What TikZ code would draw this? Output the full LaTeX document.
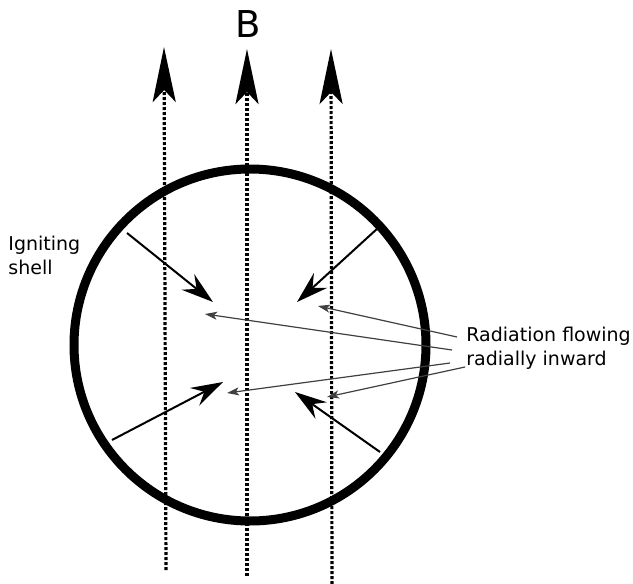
\documentclass[tikz,border=0pt]{standalone}
\usepackage{fontspec}
\setmainfont{DejaVu Sans}
\usetikzlibrary{arrows.meta}

\begin{document}
\begin{tikzpicture}[
  x=0.5pt, y=-0.5pt,
  font=\fontsize{9.5}{12}\selectfont,
  field/.style  ={line width=1.6pt, dash pattern=on 1.5pt off 1pt,
                  -{Stealth[length=27.5pt, width=11.5pt, inset=6pt]}},
  ray/.style    ={line width=1pt, -{Stealth[length=16pt, width=10pt, inset=5.5pt]}},
  pointer/.style={line width=0.6pt, draw=black!75, -{Stealth[length=6pt, width=4pt, inset=1.5pt]}},
  lbl/.style    ={align=left, inner sep=0pt, anchor=north west}
]
\useasboundingbox (0,0) rectangle (633,584);

% ---- field lines ----
\coordinate (f1b) at (166,570); \coordinate (f1t) at (164,47);
\coordinate (f2b) at (247,576); \coordinate (f2t) at (247,49);
\coordinate (f3b) at (332,584); \coordinate (f3t) at (331,49);
\draw[field] (f1b) -- (f1t);
\draw[field] (f2b) -- (f2t);
\draw[field] (f3b) -- (f3t);
\node[font=\fontsize{18.5}{20}\selectfont, inner sep=0pt] (bfield) at (248,24) {B};

% ---- igniting shell ----
\node[draw, circle, line width=4.5pt, minimum size=176pt, inner sep=0pt] (shell) at (250,345) {};
\node[lbl] (ign) at (8,236) {Igniting\\shell};

% ---- radial rays ----
\coordinate (r1s) at (127,233); \coordinate (r1e) at (213,302);
\coordinate (r2s) at (378,228); \coordinate (r2e) at (297,302);
\coordinate (r3s) at (112,440); \coordinate (r3e) at (223,382);
\coordinate (r4s) at (380,452); \coordinate (r4e) at (295,392);
\draw[ray] (r1s) -- (r1e);
\draw[ray] (r2s) -- (r2e);
\draw[ray] (r3s) -- (r3e);
\draw[ray] (r4s) -- (r4e);

% ---- label and pointers ----
\node[lbl] (rad) at (466,327) {Radiation flowing\\radially inward};
\coordinate (p1) at (457,337); \coordinate (p1e) at (318,306);
\coordinate (p2) at (452,350); \coordinate (p2e) at (205,314);
\coordinate (p3) at (450,363); \coordinate (p3e) at (227,393);
\coordinate (p4) at (465,367); \coordinate (p4e) at (327,397);
\draw[pointer] (p1) -- (p1e);
\draw[pointer] (p2) -- (p2e);
\draw[pointer] (p3) -- (p3e);
\draw[pointer] (p4) -- (p4e);

\end{tikzpicture}
\end{document}
